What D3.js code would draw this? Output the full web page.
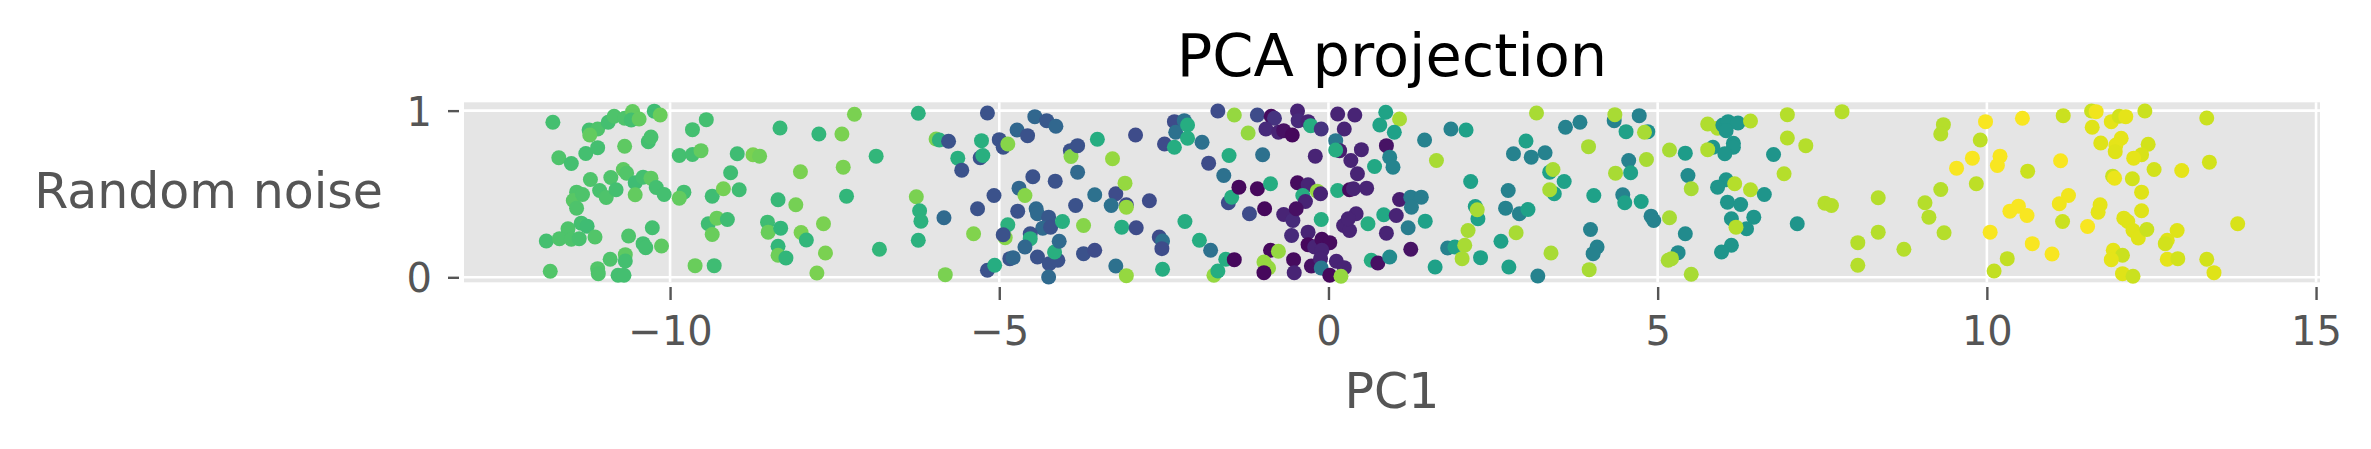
<!DOCTYPE html>
<html>
<head>
<meta charset="utf-8">
<script src="https://cdn.jsdelivr.net/npm/d3@7"></script>
<style>
  html, body { margin: 0; padding: 0; background: #ffffff; }
  svg { display: block; }
  text { font-family: "DejaVu Sans", sans-serif; }
</style>
</head>
<body>
<svg id="chart" width="2371" height="449"></svg>
<script>
// ---------------- data ----------------
const title = "PCA projection";
const xLabel = "PC1";
const yLabel = "Random noise";
const xTicks = [-10, -5, 0, 5, 10, 15];
const yTicks = [0, 1];

// PC1 coordinate of each sample
const pc1 = [
  // around -12 .. -8.5
  -11.78,-11.69,-11.50,-11.42,-11.47,-11.33,-11.42,-11.55,-11.35,-11.26,
  -11.88,-11.68,-11.50,-11.38,-11.14,-11.82,-11.10,-11.09,-11.23,-11.10,
  -11.22,-10.94,-10.85,-10.69,-10.57,-10.59,-10.47,-10.24,-10.15,-11.28,
  -11.10,-10.69,-10.33,-10.29,-11.21,-10.90,-10.71,-10.66,-11.07,-10.97,
  -10.82,-10.53,-10.41,-10.29,-10.21,-10.53,-10.09,-10.27,-10.63,-10.41,
  -10.37,-10.13,-10.91,-10.68,-10.68,-10.79,-10.70,-9.86,-9.66,-9.66,
  -9.53,-9.45,-9.79,-9.86,-9.36,-9.19,-9.08,-8.95,-8.98,-8.74,
  -8.64,-9.42,-9.29,-9.13,-9.36,-9.62,-9.33,-8.52,-8.51,
  // around -8.4 .. -3.7
  -8.33,-8.36,-8.32,-8.36,-8.36,-8.24,-8.09,-8.02,-8.01,-7.93,
  -7.74,-7.67,-7.64,-7.77,-7.39,-7.37,-7.20,-7.32,-6.87,-6.82,
  -6.23,-6.26,-6.21,-6.19,-6.23,-5.96,-5.91,-5.77,-5.63,-5.57,
  -5.84,-5.82,-5.39,-5.33,-5.27,-5.29,-5.25,-5.18,-5.08,-5.18,
  -5.07,-5.00,-4.94,-4.87,-4.73,-4.57,-4.46,-4.28,-4.14,-4.49,
  -4.70,-4.61,-4.72,-4.44,-4.42,-4.25,-4.34,-4.22,-4.15,-4.87,
  -4.91,-4.94,-4.53,-4.53,-4.61,-4.84,-4.79,-4.42,-4.24,-4.11,
  -4.16,-4.25,-4.09,-4.04,-3.92,-3.91,-3.81,-3.81,-3.84,-3.72,-3.72,
  // around -3.6 .. 1
  -3.51,-3.28,-2.93,-3.55,-3.23,-3.30,-3.07,-3.07,-3.09,-2.72,
  -3.14,-2.92,-3.55,-3.23,-3.07,-2.57,-2.52,-2.53,-2.52,-2.49,
  -2.34,-2.34,-2.32,-2.19,-2.14,-2.14,-1.92,-2.18,-1.82,-1.68,
  -1.59,-1.51,-1.43,-1.22,-1.96,-1.79,-1.74,-1.68,-1.56,-1.43,
  -1.52,-1.47,-1.36,-1.08,-1.20,-0.97,-0.88,-1.08,-0.87,-0.82,
  -0.95,-0.76,-0.68,-0.55,-1.00,-0.47,-0.46,-0.31,-0.27,-0.11,
  -0.20,-0.47,-0.31,-0.39,-0.35,-0.17,-0.12,-0.68,-0.54,-0.56,
  -0.49,-0.31,-0.11,-0.88,-0.76,-0.98,-0.91,-0.98,-0.53,-0.52,
  -0.31,-0.21,-0.10,0.02,-0.10,-0.26,-0.12,-0.11,0.02,0.12,
  0.24,0.19,0.14,0.40,0.24,0.11,0.17,0.11,0.34,0.50,
  0.44,0.14,0.32,0.38,0.58,0.23,0.32,0.42,0.30,0.60,
  0.65,0.75,0.88,0.84,0.70,0.87,0.78,0.88,0.93,0.93,0.98,
  // around 1 .. 5.5
  1.08,1.00,1.08,1.03,1.25,1.41,1.26,1.25,1.21,1.47,
  1.46,1.64,1.86,2.09,1.62,1.81,1.92,2.07,2.03,2.12,
  2.31,2.16,2.23,2.27,2.26,2.62,2.74,2.69,2.73,2.90,
  3.03,2.85,2.81,3.00,3.08,3.16,3.29,3.36,3.41,3.43,
  3.36,3.58,3.18,3.38,3.60,3.82,3.95,4.03,3.98,4.08,
  4.02,3.96,4.34,4.35,4.52,4.72,4.85,4.80,4.56,4.59,
  4.36,4.83,4.47,4.50,4.75,4.90,4.94,5.18,5.18,5.42,
  5.46,5.51,5.42,5.31,5.21,5.16,5.51,
  // around 5.7 .. 10.4
  5.76,5.91,5.84,5.76,5.99,6.07,6.22,6.04,6.41,6.15,
  6.15,6.02,6.76,6.97,6.97,7.25,6.92,7.80,6.04,5.91,
  6.17,6.41,6.62,6.06,6.26,6.12,6.46,6.35,6.19,6.12,
  5.97,7.12,7.54,7.64,8.35,8.35,8.04,8.04,8.74,9.06,
  9.12,9.30,9.34,9.30,9.35,9.54,9.78,9.84,9.90,9.98,
  10.20,10.16,10.05,10.11,10.31,10.35,
  // around 10.5 .. 13.8
  10.54,11.16,11.59,11.66,11.60,11.89,12.01,12.11,12.40,13.34,
  11.73,12.04,11.96,11.95,12.45,12.35,12.23,12.54,12.96,13.38,
  11.12,10.62,11.91,11.94,12.21,12.35,12.35,10.48,10.61,11.24,
  11.10,11.72,11.69,11.15,11.53,12.08,12.14,12.22,12.30,12.43,
  12.89,12.74,12.71,13.81,10.69,10.99,11.92,12.06,11.89,12.74,
  12.90,13.34,13.45,12.06,12.22
];

// random-noise coordinate of each sample
const noise = [
  0.930,0.717,0.683,0.511,0.461,0.497,0.415,0.291,0.325,0.307,
  0.218,0.232,0.228,0.232,0.242,0.036,0.052,0.022,0.884,0.890,
  0.854,0.930,0.966,0.954,0.995,0.944,0.950,0.997,0.974,0.743,
  0.778,0.786,0.814,0.842,0.587,0.599,0.647,0.625,0.521,0.479,
  0.525,0.567,0.601,0.595,0.539,0.495,0.497,0.297,0.248,0.202,
  0.178,0.188,0.108,0.136,0.098,0.012,0.012,0.731,0.886,0.737,
  0.760,0.946,0.511,0.475,0.487,0.531,0.627,0.525,0.741,0.735,
  0.727,0.321,0.355,0.347,0.257,0.070,0.070,0.331,0.271,

  0.896,0.465,0.295,0.186,0.132,0.116,0.435,0.633,0.269,0.224,
  0.860,0.321,0.146,0.026,0.860,0.661,0.978,0.487,0.727,0.168,
  0.984,0.483,0.399,0.337,0.222,0.830,0.824,0.816,0.715,0.643,
  0.357,0.016,0.261,0.411,0.820,0.717,0.731,0.986,0.491,0.042,
  0.072,0.826,0.780,0.800,0.884,0.850,0.964,0.940,0.906,0.603,
  0.535,0.491,0.397,0.411,0.381,0.361,0.295,0.301,0.577,0.315,
  0.238,0.255,0.261,0.232,0.182,0.112,0.118,0.122,0.082,0.102,
  0.152,0.002,0.216,0.335,0.760,0.725,0.790,0.631,0.431,0.311,0.142,

  0.828,0.711,0.854,0.495,0.501,0.431,0.435,0.421,0.565,0.459,
  0.301,0.297,0.162,0.068,0.010,0.242,0.218,0.172,0.048,0.800,
  0.934,0.780,0.870,0.940,0.914,0.834,0.810,0.335,0.685,0.998,
  0.611,0.731,0.974,0.866,0.222,0.162,0.012,0.038,0.108,0.106,
  0.447,0.481,0.541,0.531,0.381,0.411,0.561,0.974,0.966,0.954,
  0.890,0.870,0.880,0.854,0.735,0.998,0.940,0.934,0.910,0.890,
  0.727,0.567,0.555,0.491,0.455,0.517,0.501,0.377,0.341,0.251,
  0.411,0.271,0.347,0.162,0.156,0.092,0.056,0.028,0.106,0.028,
  0.196,0.182,0.228,0.208,0.162,0.068,0.112,0.056,0.012,0.096,
  0.058,0.006,0.980,0.974,0.890,0.820,0.760,0.764,0.701,0.766,
  0.621,0.521,0.525,0.531,0.535,0.311,0.281,0.381,0.351,0.321,
  0.102,0.086,0.265,0.375,0.665,0.990,0.914,0.790,0.721,0.122,0.661,

  0.950,0.870,0.467,0.371,0.481,0.481,0.421,0.168,0.297,0.337,
  0.824,0.701,0.890,0.884,0.062,0.176,0.182,0.192,0.112,0.281,
  0.118,0.575,0.425,0.351,0.405,0.216,0.062,0.415,0.521,0.381,
  0.407,0.267,0.741,0.818,0.721,0.986,0.747,0.631,0.647,0.501,
  0.525,0.575,0.008,0.146,0.900,0.930,0.784,0.491,0.287,0.182,
  0.142,0.046,0.940,0.976,0.874,0.970,0.874,0.870,0.701,0.627,
  0.625,0.707,0.495,0.447,0.455,0.367,0.341,0.357,0.764,0.745,
  0.611,0.531,0.261,0.148,0.112,0.102,0.018,

  0.920,0.894,0.780,0.766,0.914,0.934,0.926,0.880,0.938,0.804,
  0.780,0.741,0.737,0.976,0.836,0.790,0.621,0.994,0.585,0.541,
  0.561,0.525,0.497,0.451,0.437,0.351,0.361,0.291,0.301,0.192,
  0.152,0.321,0.445,0.431,0.477,0.271,0.208,0.072,0.168,0.447,
  0.361,0.527,0.916,0.860,0.267,0.655,0.715,0.561,0.824,0.934,
  0.727,0.671,0.271,0.038,0.112,0.397,

  0.954,0.970,0.998,0.994,0.900,0.934,0.966,0.964,0.998,0.956,
  0.806,0.834,0.794,0.754,0.798,0.735,0.715,0.647,0.641,0.691,
  0.699,0.637,0.607,0.595,0.591,0.511,0.399,0.427,0.371,0.491,
  0.441,0.435,0.391,0.335,0.305,0.355,0.335,0.281,0.236,0.287,
  0.281,0.222,0.202,0.321,0.202,0.140,0.162,0.132,0.106,0.108,
  0.112,0.108,0.028,0.022,0.006
];

// colour value of each sample (0 = dark purple .. 1 = yellow)
const tone = [
  0.70,0.72,0.70,0.72,0.74,0.72,0.72,0.72,0.70,0.69,
  0.70,0.72,0.72,0.71,0.73,0.73,0.73,0.72,0.70,0.72,
  0.76,0.70,0.72,0.72,0.76,0.70,0.76,0.69,0.77,0.70,
  0.70,0.75,0.70,0.71,0.72,0.72,0.75,0.73,0.71,0.72,
  0.70,0.69,0.70,0.75,0.70,0.76,0.70,0.70,0.72,0.70,
  0.70,0.75,0.72,0.75,0.70,0.70,0.70,0.70,0.70,0.70,
  0.76,0.70,0.70,0.76,0.69,0.79,0.69,0.69,0.69,0.80,
  0.78,0.69,0.77,0.69,0.77,0.77,0.69,0.69,0.77,

  0.67,0.67,0.66,0.66,0.78,0.66,0.79,0.80,0.80,0.66,
  0.66,0.80,0.80,0.80,0.80,0.80,0.80,0.66,0.66,0.66,
  0.64,0.80,0.64,0.64,0.64,0.80,0.64,0.25,0.63,0.25,
  0.34,0.80,0.81,0.25,0.63,0.25,0.63,0.25,0.25,0.25,
  0.62,0.25,0.25,0.82,0.33,0.25,0.33,0.27,0.33,0.25,
  0.33,0.82,0.25,0.34,0.34,0.27,0.34,0.25,0.25,0.64,
  0.82,0.25,0.25,0.63,0.33,0.26,0.33,0.25,0.25,0.25,
  0.63,0.34,0.34,0.63,0.25,0.82,0.25,0.34,0.25,0.82,0.25,

  0.62,0.84,0.23,0.37,0.23,0.37,0.23,0.84,0.84,0.23,
  0.62,0.23,0.23,0.37,0.84,0.23,0.37,0.23,0.62,0.23,
  0.23,0.62,0.37,0.37,0.62,0.62,0.37,0.62,0.23,0.23,
  0.37,0.62,0.84,0.84,0.62,0.37,0.84,0.62,0.62,0.02,
  0.23,0.62,0.02,0.02,0.23,0.02,0.62,0.23,0.03,0.15,
  0.12,0.10,0.04,0.02,0.37,0.10,0.12,0.10,0.62,0.15,
  0.10,0.03,0.10,0.62,0.10,0.84,0.10,0.10,0.12,0.12,
  0.04,0.10,0.62,0.02,0.84,0.84,0.84,0.02,0.03,0.10,
  0.02,0.10,0.03,0.03,0.10,0.04,0.10,0.40,0.02,0.10,
  0.10,0.84,0.10,0.10,0.10,0.40,0.08,0.62,0.10,0.10,
  0.10,0.62,0.03,0.10,0.10,0.10,0.10,0.10,0.10,0.62,
  0.62,0.04,0.10,0.60,0.60,0.58,0.58,0.05,0.45,0.48,0.45,

  0.87,0.57,0.08,0.10,0.42,0.42,0.42,0.05,0.42,0.57,
  0.44,0.87,0.44,0.57,0.57,0.44,0.57,0.87,0.87,0.87,
  0.57,0.57,0.57,0.57,0.87,0.57,0.57,0.44,0.44,0.44,
  0.57,0.87,0.44,0.57,0.44,0.87,0.44,0.57,0.87,0.57,
  0.87,0.57,0.44,0.87,0.44,0.44,0.87,0.57,0.44,0.44,
  0.44,0.87,0.44,0.87,0.57,0.44,0.50,0.87,0.44,0.57,
  0.87,0.87,0.44,0.57,0.57,0.44,0.44,0.87,0.87,0.55,
  0.48,0.87,0.48,0.48,0.87,0.87,0.87,

  0.88,0.88,0.52,0.88,0.52,0.52,0.52,0.52,0.89,0.52,
  0.52,0.52,0.52,0.89,0.89,0.89,0.89,0.89,0.52,0.52,
  0.89,0.89,0.52,0.52,0.52,0.52,0.52,0.52,0.89,0.52,
  0.52,0.52,0.89,0.89,0.89,0.89,0.89,0.89,0.89,0.89,
  0.89,0.89,0.89,0.89,0.89,0.99,0.99,0.90,0.90,0.99,
  0.99,0.99,0.99,0.91,0.91,0.99,

  0.99,0.92,0.92,0.98,0.95,0.96,0.93,0.96,0.92,0.92,
  0.95,0.96,0.96,0.95,0.93,0.94,0.96,0.93,0.96,0.93,
  0.99,0.92,0.92,0.97,0.93,0.95,0.95,0.99,0.99,0.98,
  0.98,0.96,0.96,0.92,0.99,0.95,0.95,0.95,0.95,0.92,
  0.95,0.95,0.93,0.94,0.99,0.99,0.96,0.92,0.96,0.96,
  0.93,0.93,0.95,0.95,0.92
];

// ---------------- chart ----------------
const svg = d3.select("#chart");
const W = 2371, H = 449;
svg.append("rect").attr("width", W).attr("height", H).attr("fill", "#ffffff");

const plot = { left: 464, right: 2320, top: 102.3, bottom: 282.3 };

const x = d3.scaleLinear().domain([-13.13, 15.06]).range([plot.left, plot.right]);
const y = d3.scaleLinear().domain([-0.03, 1.05]).range([plot.bottom, plot.top]);
const color = d3.scaleSequential(d3.interpolateViridis).domain([0, 1]);

// background
svg.append("rect")
  .attr("x", plot.left).attr("y", plot.top)
  .attr("width", plot.right - plot.left).attr("height", plot.bottom - plot.top)
  .attr("fill", "#E5E5E5");

// grid
const grid = svg.append("g").attr("stroke", "#ffffff").attr("stroke-width", 2.6);
grid.selectAll("line.vx").data(xTicks).join("line")
  .attr("x1", d => x(d)).attr("x2", d => x(d))
  .attr("y1", plot.top).attr("y2", plot.bottom);
grid.selectAll("line.hy").data(yTicks).join("line")
  .attr("y1", d => y(d)).attr("y2", d => y(d))
  .attr("x1", plot.left).attr("x2", plot.right);

// points
const pts = pc1.map((v, i) => ({ x: v, y: noise[i], c: tone[i] }));
svg.append("g").selectAll("circle").data(pts).join("circle")
  .attr("cx", d => x(d.x))
  .attr("cy", d => y(d.y))
  .attr("r", 7.5)
  .attr("fill", d => color(d.c));

// x axis
const xAxis = d3.axisBottom(x).tickValues(xTicks).tickFormat(d3.format("d")).tickSize(13).tickPadding(0);
const gx = svg.append("g").attr("transform", `translate(0,${plot.bottom + 4.7})`).call(xAxis);
gx.select(".domain").remove();
gx.selectAll(".tick line").attr("stroke", "#555555").attr("stroke-width", 2.4);
gx.selectAll(".tick text")
  .attr("fill", "#555555").attr("font-size", 40)
  .attr("font-family", "DejaVu Sans")
  .attr("y", 58).attr("dy", 0);

// y axis
const yAxis = d3.axisLeft(y).tickValues(yTicks).tickFormat(d3.format("d")).tickSize(11).tickPadding(0);
const gy = svg.append("g").attr("transform", `translate(${plot.left - 5},0)`).call(yAxis);
gy.select(".domain").remove();
gy.selectAll(".tick line").attr("stroke", "#555555").attr("stroke-width", 2.4);
gy.selectAll(".tick text")
  .attr("fill", "#555555").attr("font-size", 40)
  .attr("font-family", "DejaVu Sans")
  .attr("x", -27).attr("dy", "0.36em");

// labels
svg.append("text")
  .attr("x", (plot.left + plot.right) / 2).attr("y", 75.5)
  .attr("text-anchor", "middle").attr("font-size", 59).attr("fill", "#000000")
  .text(title);

svg.append("text")
  .attr("x", (plot.left + plot.right) / 2).attr("y", 408)
  .attr("text-anchor", "middle").attr("font-size", 49).attr("fill", "#555555")
  .text(xLabel);

svg.append("text")
  .attr("x", 383).attr("y", 208)
  .attr("text-anchor", "end").attr("font-size", 49).attr("fill", "#555555")
  .text(yLabel);
</script>
</body>
</html>
